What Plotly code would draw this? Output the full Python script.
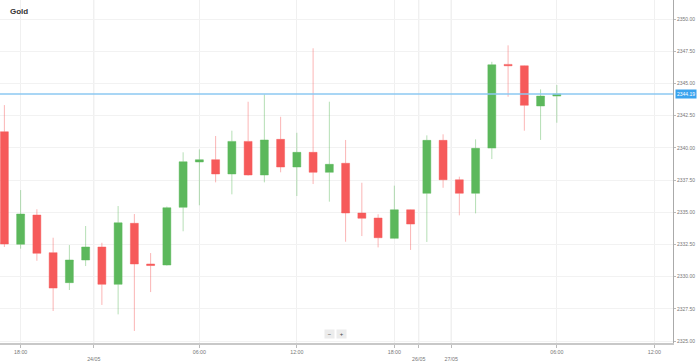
import plotly.graph_objects as go

# Hourly Gold candles (index = candle slot on the gapless time axis)
opens  = [2341.25, 2332.51, 2334.78, 2331.86, 2329.53, 2331.29, 2332.30, 2329.40, 2334.14, 2330.98,
          2330.90, 2335.38, 2338.90, 2339.08, 2337.97, 2340.50, 2337.89, 2340.66, 2338.51, 2339.65,
          2338.10, 2338.80, 2334.94, 2334.55, 2332.97, 2335.19, 2336.47, 2340.58, 2337.52, 2336.47,
          2339.98, 2346.48, 2346.37, 2343.25, 2344.02]
highs  = [2343.32, 2336.72, 2335.23, 2333.02, 2332.45, 2333.93, 2332.63, 2335.48, 2334.86, 2331.83,
          2335.44, 2339.65, 2339.88, 2340.92, 2341.33, 2343.58, 2344.15, 2342.41, 2341.17, 2347.73,
          2343.58, 2340.61, 2337.29, 2334.84, 2337.06, 2335.21, 2340.97, 2341.05, 2337.76, 2340.66,
          2346.68, 2347.96, 2346.39, 2344.54, 2344.88]
lows   = [2332.30, 2332.17, 2331.23, 2327.33, 2328.96, 2330.82, 2327.80, 2327.07, 2325.78, 2328.80,
          2330.86, 2333.52, 2335.54, 2337.32, 2336.39, 2337.85, 2337.32, 2338.10, 2336.26, 2337.19,
          2335.82, 2332.71, 2333.15, 2332.27, 2332.96, 2332.07, 2332.69, 2336.90, 2334.76, 2334.91,
          2339.13, 2343.97, 2341.33, 2340.61, 2341.95]
closes = [2332.53, 2334.86, 2331.81, 2329.11, 2331.29, 2332.30, 2329.40, 2334.18, 2330.98, 2330.86,
          2335.35, 2338.92, 2339.08, 2337.97, 2340.50, 2337.89, 2340.61, 2338.51, 2339.65, 2338.10,
          2338.72, 2334.94, 2334.53, 2333.02, 2335.19, 2334.08, 2340.58, 2337.52, 2336.47, 2339.96,
          2346.45, 2346.37, 2343.30, 2344.02, 2344.19]
current_price = 2344.19

tick_pos  = [1, 5.5, 12, 18, 24, 25.5, 27.5, 34, 40]
tick_text = ["18:00", "<br>24/05", "06:00", "12:00", "18:00", "<br>26/05", "<br>27/05", "06:00", "12:00"]
date_pos  = [5.5, 25.5, 27.5]

y_ticks = [2325.0, 2327.5, 2330.0, 2332.5, 2335.0, 2337.5, 2340.0, 2342.5, 2345.0, 2347.5, 2350.0]

slots = list(range(len(opens)))

fig = go.Figure()
fig.add_trace(go.Candlestick(
    x=slots, open=opens, high=highs, low=lows, close=closes,
    increasing=dict(fillcolor="#5cb85c", line=dict(color="rgba(92,184,92,0.45)", width=1)),
    decreasing=dict(fillcolor="#f65a5a", line=dict(color="rgba(246,90,90,0.45)", width=1)),
    whiskerwidth=0, showlegend=False, hoverinfo="skip",
))

shapes = []
for p in date_pos:
    shapes.append(dict(type="line", xref="x", yref="paper", x0=p, x1=p, y0=0, y1=1,
                       line=dict(color="#e2e2e2", width=1), layer="below"))
shapes.append(dict(type="line", xref="paper", yref="y", x0=0, x1=1, y0=current_price, y1=current_price,
                   line=dict(color="#8cc8f2", width=1.5)))
fig.update_layout(shapes=shapes)

annotations = [
    dict(xref="paper", yref="paper", x=0.012, y=0.985, xanchor="left", yanchor="top",
         text="<b>Gold</b>", showarrow=False, font=dict(size=8, color="#333", family="Arial")),
    dict(xref="paper", yref="y", x=1.003, y=current_price, xanchor="left", yanchor="middle",
         text=f"{current_price:.2f}", showarrow=False, bgcolor="#3aa3ee", borderpad=1,
         font=dict(size=5, color="white", family="Arial")),
    dict(xref="paper", yref="paper", x=0.489, y=0.026, xanchor="center", yanchor="middle",
         text=" − ", showarrow=False, bgcolor="#ececec", borderpad=1,
         font=dict(size=6, color="#444", family="Arial")),
    dict(xref="paper", yref="paper", x=0.508, y=0.026, xanchor="center", yanchor="middle",
         text=" + ", showarrow=False, bgcolor="#ececec", borderpad=1,
         font=dict(size=6, color="#444", family="Arial")),
]

fig.update_layout(
    width=698, height=362,
    margin=dict(l=0, r=25, t=0, b=19, autoexpand=False),
    paper_bgcolor="white", plot_bgcolor="white",
    annotations=annotations,
    xaxis=dict(
        range=[-0.27, 41.15], rangeslider=dict(visible=False),
        tickmode="array", tickvals=tick_pos, ticktext=tick_text,
        showgrid=True, gridcolor="#f0f0f0", gridwidth=1,
        showline=True, linecolor="#c8c8c8", linewidth=1.5,
        ticks="outside", ticklen=3, tickcolor="#bbb",
        tickfont=dict(size=5.3, color="#777", family="Arial"),
        zeroline=False, fixedrange=True, automargin=False,
    ),
    yaxis=dict(
        side="right", range=[2324.845, 2351.48],
        tickmode="array", tickvals=y_ticks, tickformat=".2f",
        showgrid=True, gridcolor="#f2f2f2", gridwidth=1,
        showline=True, linecolor="#aaa", linewidth=1,
        ticks="outside", ticklen=2, tickcolor="#bbb",
        tickfont=dict(size=5, color="#777", family="Arial"),
        zeroline=False, fixedrange=True, automargin=False,
    ),
)

fig.write_html("out.html", config={"displayModeBar": False},
               post_script="document.body.style.margin='0';document.body.style.overflow='hidden';")
